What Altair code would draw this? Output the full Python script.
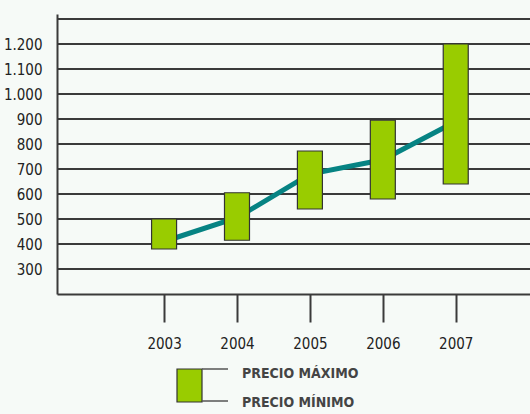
import altair as alt
import pandas as pd

# ---- data ----
years = [2003, 2004, 2005, 2006, 2007]
precio_min = [380, 415, 540, 580, 640]
precio_max = [500, 605, 772, 895, 1200]
precio_medio = [410, 505, 680, 737, 890]
grid_values = [300, 400, 500, 600, 700, 800, 900, 1000, 1100, 1200, 1300]
y_labels = [300, 400, 500, 600, 700, 800, 900, 1000, 1100, 1200]
legend_labels = ["PRECIO MÁXIMO", "PRECIO MÍNIMO"]

df = pd.DataFrame({"year": years, "min": precio_min, "max": precio_max, "medio": precio_medio})
grid_df = pd.DataFrame({"v": grid_values})

FONT = "Liberation Sans Narrow, Arial Narrow, DejaVu Sans Condensed, sans-serif"
DARK = "#3a3a3a"
GREEN = "#99cc00"
TEAL = "#068383"

xscale = alt.Scale(domain=[2001.6, 2007.95], nice=False, zero=False)
yscale = alt.Scale(domain=[200, 1320], nice=False, zero=False)

x_axis = alt.Axis(values=years, format="d", title=None, grid=False,
                  tickSize=28, tickColor=DARK, tickWidth=2,
                  domainColor=DARK, domainWidth=2,
                  labelFont=FONT, labelFontSize=15, labelColor="#222",
                  labelPadding=14)
y_axis = alt.Axis(values=y_labels, title=None, grid=False, ticks=False,
                  labelExpr="replace(format(datum.value, ','), ',', '.')",
                  domainColor=DARK, domainWidth=2,
                  labelFont=FONT, labelFontSize=15, labelColor="#222",
                  labelPadding=15)

grid = alt.Chart(grid_df).mark_rule(color=DARK, strokeWidth=2).encode(
    y=alt.Y("v:Q", scale=yscale, axis=y_axis)
)

line = alt.Chart(df).mark_line(color=TEAL, strokeWidth=5).encode(
    x=alt.X("year:Q", scale=xscale, axis=x_axis),
    y=alt.Y("medio:Q", scale=yscale, axis=y_axis),
)

bars = alt.Chart(df).mark_bar(size=25, fill=GREEN, stroke="#333", strokeWidth=1.2).encode(
    x=alt.X("year:Q", scale=xscale, axis=x_axis),
    y=alt.Y("min:Q", scale=yscale, axis=y_axis),
    y2="max:Q",
)

one = pd.DataFrame({"k": [0]})
leg_box = alt.Chart(one).mark_rect(fill=GREEN, stroke="#333", strokeWidth=1.2).encode(
    x=alt.value(120), x2=alt.value(145), y=alt.value(355), y2=alt.value(388)
)
leg_top = alt.Chart(one).mark_rule(color="#555", strokeWidth=1.5).encode(
    x=alt.value(145), x2=alt.value(171), y=alt.value(355), y2=alt.value(355)
)
leg_bot = alt.Chart(one).mark_rule(color="#555", strokeWidth=1.5).encode(
    x=alt.value(145), x2=alt.value(171), y=alt.value(387), y2=alt.value(387)
)
leg_t1 = alt.Chart(pd.DataFrame({"t": [legend_labels[0]]})).mark_text(
    align="left", baseline="middle", font=FONT, fontSize=14, fontWeight="bold",
    color="#444"
).encode(x=alt.value(185), y=alt.value(360), text="t:N")
leg_t2 = alt.Chart(pd.DataFrame({"t": [legend_labels[1]]})).mark_text(
    align="left", baseline="middle", font=FONT, fontSize=14, fontWeight="bold",
    color="#444"
).encode(x=alt.value(185), y=alt.value(389), text="t:N")

chart = alt.layer(grid, line, bars, leg_box, leg_top, leg_bot, leg_t1, leg_t2).properties(
    width=473, height=280,
    padding={"left": 57, "top": 14, "right": 0, "bottom": 120},
    autosize=alt.AutoSizeParams(type="none"),
    background="#f6faf7",
).configure_view(stroke=None)

chart.save("out.html", embed_options={"renderer": "svg", "actions": False})
